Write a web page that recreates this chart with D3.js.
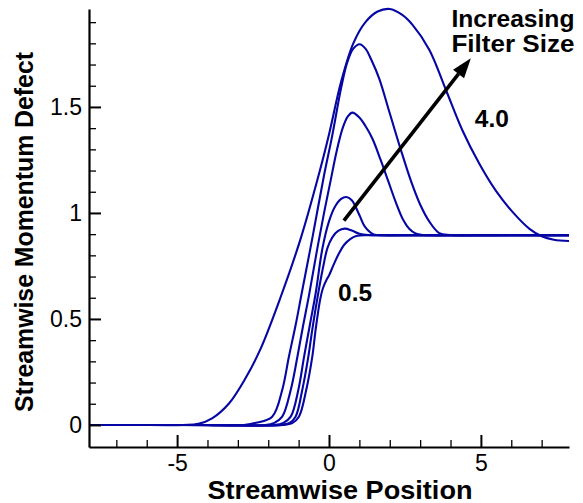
<!DOCTYPE html>
<html>
<head>
<meta charset="utf-8">
<script src="https://cdn.jsdelivr.net/npm/d3@7"></script>
<style>
  html, body { margin: 0; padding: 0; background: #fff; }
  svg { display: block; font-family: "Liberation Sans", Arial, sans-serif; }
</style>
</head>
<body>
<svg id="chart" width="583" height="503"></svg>
<script>
// ---- data ----
const filterSizes = ["0.5", "1.0", "1.5", "2.0", "3.0", "4.0"];

const curve05 = [[-7.9,0],[-4,0],[-1.5,0],[-1.2,0.01],[-0.99,0.039],[-0.75,0.165],[-0.55,0.322],[-0.44,0.45],
  [-0.3,0.585],[-0.2,0.645],[-0.08,0.685],[0,0.705],[0.15,0.755],[0.33,0.81],[0.5,0.85],[0.71,0.878],[0.93,0.892],[1.3,0.895],[3,0.895],[7.9,0.895]];

const curve10 = [[-7.9,0],[-4,0],[-1.6,0],[-1.3,0.01],[-1.10,0.039],[-0.88,0.165],[-0.68,0.322],[-0.55,0.45],
  [-0.38,0.60],[-0.2,0.74],[-0.05,0.835],[0.11,0.885],[0.3,0.915],[0.52,0.926],[0.75,0.917],[1.0,0.902],[1.3,0.896],[3,0.895],[7.9,0.895]];

const curve15 = [[-7.9,0],[-4,0],[-1.8,0],[-1.5,0.01],[-1.26,0.039],[-1.01,0.165],[-0.82,0.322],[-0.62,0.48],
  [-0.44,0.62],[-0.22,0.83],[0.0,0.96],[0.2,1.03],[0.4,1.066],[0.57,1.075],[0.75,1.06],[1.0,0.99],[1.18,0.935],[1.45,0.9],[1.8,0.895],[4,0.895],[7.9,0.895]];

const curve20 = [[-7.9,0],[-4.5,0],[-2.1,0],[-1.8,0.01],[-1.54,0.039],[-1.26,0.165],[-1.04,0.322],[-0.85,0.47],
  [-0.66,0.61],[-0.4,0.82],[-0.15,1.01],[0.05,1.15],[0.25,1.29],[0.45,1.40],[0.62,1.455],[0.77,1.473],[1.0,1.45],
  [1.2,1.41],[1.43,1.35],[1.7,1.25],[1.95,1.15],[2.2,1.05],[2.45,0.965],[2.64,0.925],[2.85,0.903],[3.1,0.896],[5,0.895],[7.9,0.895]];

const curve30 = [[-7.9,0],[-5,0],[-2.8,0],[-2.4,0.01],[-1.87,0.039],[-1.54,0.165],[-1.32,0.322],[-1.1,0.47],
  [-0.9,0.62],[-0.55,0.88],[-0.16,1.18],[0.1,1.36],[0.4,1.59],[0.6,1.71],[0.8,1.775],[1.01,1.796],[1.2,1.775],
  [1.4,1.72],[1.65,1.635],[2.0,1.47],[2.36,1.30],[2.7,1.15],[3.0,1.04],[3.3,0.96],[3.63,0.905],[4.0,0.896],[6,0.895],[7.9,0.895]];

const curve40 = [[-7.9,0],[-6.5,0],[-4.8,0],[-4.3,0.005],[-3.85,0.031],[-3.3,0.10],[-2.75,0.22],[-2.25,0.36],
  [-1.6,0.60],[-0.93,0.88],[-0.3,1.2],[0.0,1.37],[0.4,1.62],[0.8,1.80],[1.2,1.90],[1.6,1.95],[2.0,1.962],
  [2.4,1.935],[2.75,1.887],[3.3,1.77],[3.85,1.58],[4.39,1.39],[4.94,1.234],[5.49,1.105],[6.04,1.005],
  [6.6,0.925],[7.0,0.89],[7.4,0.874],[7.9,0.868]];

const curves = [curve05, curve10, curve15, curve20, curve30, curve40];

const xMajorTicks = [-5, 0, 5];
const xMinorTicks = [-7, -6, -4, -3, -2, -1, 1, 2, 3, 4, 6, 7];
const yMajorTicks = [0, 0.5, 1, 1.5];
const yMinorTicks = [0.1,0.2,0.3,0.4,0.6,0.7,0.8,0.9,1.1,1.2,1.3,1.4,1.6,1.7,1.8,1.9];

const xTitle = "Streamwise Position";
const yTitle = "Streamwise Momentum Defect";
const arrowFrom = [0.49, 0.964];
const arrowTo = [4.67, 1.73];

// ---- layout ----
const svg = d3.select("#chart");
const x = d3.scaleLinear().domain([-7.9, 7.9]).range([89, 569]);
const y = d3.scaleLinear().domain([-0.104, 1.962]).range([447, 9]);

const lineColor = "#0606a4";

// curves
const line = d3.line().x(d => x(d[0])).y(d => y(d[1])).curve(d3.curveCatmullRom.alpha(0.5));
svg.append("g").selectAll("path").data(curves).join("path")
  .attr("d", line)
  .attr("fill", "none")
  .attr("stroke", lineColor)
  .attr("stroke-width", 2.1)
  .attr("stroke-linejoin", "round");

// axes
const fmt = d => String(d);
const yAxis = svg.append("g").attr("transform", `translate(${x.range()[0]},0)`)
  .call(d3.axisLeft(y).tickValues(yMajorTicks).tickFormat(fmt).tickSize(-12).tickSizeOuter(0).tickPadding(7));
const yMinor = svg.append("g").attr("transform", `translate(${x.range()[0]},0)`)
  .call(d3.axisLeft(y).tickValues(yMinorTicks).tickFormat("").tickSize(-7).tickSizeOuter(0));
yMinor.select(".domain").remove();

const xAxis = svg.append("g").attr("transform", `translate(0,${y.range()[0]})`)
  .call(d3.axisBottom(x).tickValues(xMajorTicks).tickFormat(fmt).tickSize(-12).tickSizeOuter(0).tickPadding(8));
const xMinor = svg.append("g").attr("transform", `translate(0,${y.range()[0]})`)
  .call(d3.axisBottom(x).tickValues(xMinorTicks).tickFormat("").tickSize(-7).tickSizeOuter(0));
xMinor.select(".domain").remove();

svg.selectAll(".domain").attr("stroke", "#000").attr("stroke-width", 2.2);
svg.selectAll(".tick line").attr("stroke", "#000").attr("stroke-width", 1.3);
svg.selectAll(".tick text").attr("font-size", 23).attr("fill", "#000")
  .attr("font-family", "'Liberation Sans', Arial, sans-serif");
yAxis.selectAll(".tick line").attr("stroke-width", 2);
xAxis.selectAll(".tick line").attr("stroke-width", 2);

// titles
svg.append("text").text(xTitle)
  .attr("x", 340).attr("y", 499)
  .attr("text-anchor", "middle").attr("font-weight", "bold").attr("font-size", 25)
  .attr("textLength", 265).attr("lengthAdjust", "spacingAndGlyphs");
svg.append("text").text(yTitle)
  .attr("transform", "translate(33,232) rotate(-90)")
  .attr("text-anchor", "middle").attr("font-weight", "bold").attr("font-size", 25)
  .attr("textLength", 360).attr("lengthAdjust", "spacingAndGlyphs");

// arrow
const [x0, y0] = [x(arrowFrom[0]), y(arrowFrom[1])];
const [x1, y1] = [x(arrowTo[0]), y(arrowTo[1])];
const ang = Math.atan2(y1 - y0, x1 - x0);
const headLen = 20, headW = 7;
const bx = x1 - headLen * Math.cos(ang), by = y1 - headLen * Math.sin(ang);
svg.append("line")
  .attr("x1", x0).attr("y1", y0).attr("x2", bx).attr("y2", by)
  .attr("stroke", "#000").attr("stroke-width", 3.6);
svg.append("polygon")
  .attr("points", [
    [x1, y1],
    [bx + headW * Math.sin(ang), by - headW * Math.cos(ang)],
    [bx - headW * Math.sin(ang), by + headW * Math.cos(ang)]
  ].map(p => p.join(",")).join(" "))
  .attr("fill", "#000");

// annotations
const ann = svg.append("g").attr("font-weight", "bold").attr("font-size", 24.5).attr("fill", "#000");
ann.append("text").text("Increasing").attr("x", x(4.03)).attr("y", y(1.878))
  .attr("textLength", 123).attr("lengthAdjust", "spacingAndGlyphs");
ann.append("text").text("Filter Size").attr("x", x(4.03)).attr("y", y(1.759))
  .attr("textLength", 123).attr("lengthAdjust", "spacingAndGlyphs");
ann.append("text").text("4.0").attr("x", x(4.8)).attr("y", y(1.405));
ann.append("text").text("0.5").attr("x", x(0.3)).attr("y", y(0.585));
</script>
</body>
</html>
